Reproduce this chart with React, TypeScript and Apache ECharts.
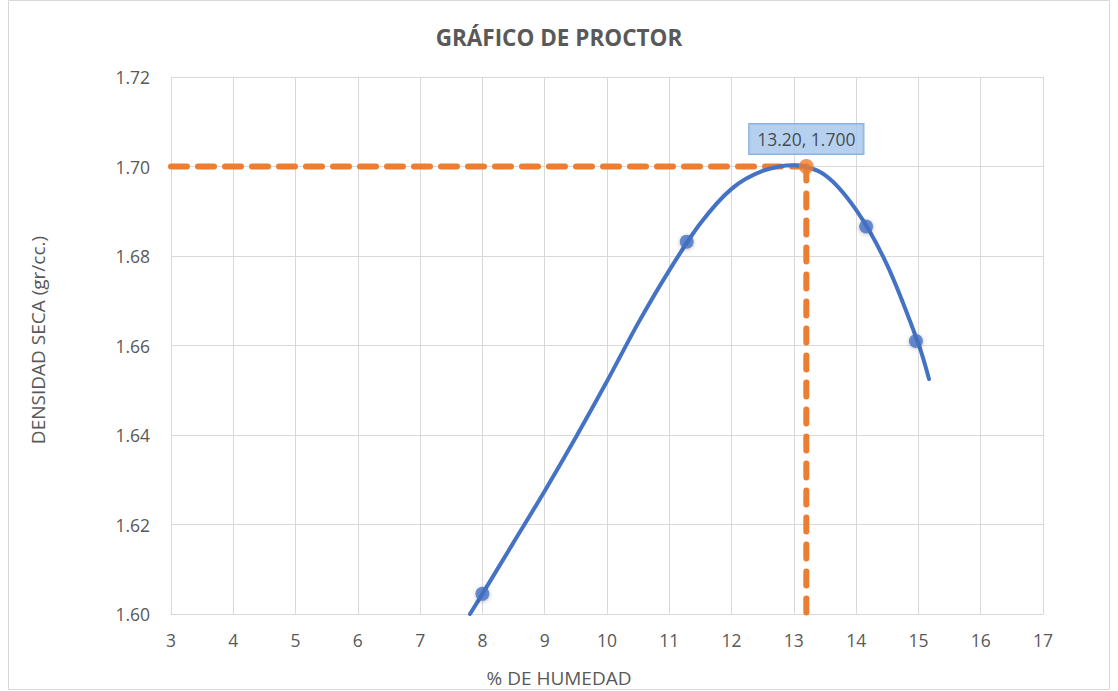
import React, { useEffect, useRef } from "react";
import * as echarts from "echarts";

// Measured points (% humedad, densidad seca)
const measX = [8.0, 11.28, 14.16, 14.96];
const measY = [1.6045, 1.6832, 1.6866, 1.661];

// Trend curve
const trendX = [7.8, 8.0, 8.5, 9.0, 9.5, 10.0, 10.5, 11.0, 11.5, 12.0, 12.5, 13.0, 13.5, 14.0, 14.5, 15.0, 15.17];
const trendY = [1.6, 1.6045, 1.616, 1.6275, 1.6395, 1.652, 1.665, 1.6768, 1.6873, 1.695, 1.699, 1.7003, 1.6981, 1.6903, 1.6779, 1.6604, 1.6525];

// Optimum
const optX = 13.2;
const optY = 1.7;

const xMin = 3;
const xMax = 17;
const yMin = 1.6;
const yMax = 1.72;

const title = "GRÁFICO DE PROCTOR";
const xTitle = "% DE HUMEDAD";
const yTitle = "DENSIDAD SECA (gr/cc.)";

const FONT = "'Open Sans', 'Noto Sans', sans-serif";
const TXT = "#595959";
const GRID = "#d9d9d9";
const BLUE = "#4472c4";
const ORANGE = "#ed7d31";

export default function App() {
  const ref = useRef<HTMLDivElement>(null);
  useEffect(() => {
    if (!ref.current) return;
    const chart = echarts.init(ref.current, undefined, { renderer: "svg" });
    const trend = trendX.map((x, i) => [x, trendY[i]]);
    const meas = measX.map((x, i) => [x, measY[i]]);
    chart.setOption({
      animation: false,
      backgroundColor: "#ffffff",
      textStyle: { fontFamily: FONT },
      title: {
        text: title,
        left: "center",
        top: 21,
        textStyle: { fontFamily: FONT, fontSize: 22.5, fontWeight: "bold", color: TXT },
      },
      grid: { left: 171, right: 75, top: 77, bottom: 77 },
      xAxis: {
        type: "value",
        min: xMin,
        max: xMax,
        interval: 1,
        axisLine: { show: true, lineStyle: { color: GRID } },
        axisTick: { show: false },
        splitLine: { show: true, lineStyle: { color: GRID, width: 1 } },
        axisLabel: { color: TXT, fontSize: 17.5, fontFamily: FONT, margin: 17 },
      },
      yAxis: {
        type: "value",
        min: yMin,
        max: yMax,
        interval: 0.02,
        axisLine: { show: true, lineStyle: { color: GRID } },
        axisTick: { show: false },
        splitLine: { show: true, lineStyle: { color: GRID, width: 1 } },
        axisLabel: {
          color: TXT,
          fontSize: 17.5,
          fontFamily: FONT,
          margin: 21,
          formatter: (v: number) => v.toFixed(2),
        },
      },
      graphic: [
        {
          type: "rect",
          shape: { x: 8.5, y: 0.5, width: 1101, height: 689 },
          style: { fill: "none", stroke: GRID, lineWidth: 1 },
          silent: true,
          z: -10,
        },
        {
          type: "text",
          x: 559,
          y: 678,
          style: {
            text: xTitle,
            fill: TXT,
            font: `19px ${FONT}`,
            align: "center",
            verticalAlign: "middle",
          },
        },
        {
          type: "text",
          x: 38,
          y: 340,
          rotation: Math.PI / 2,
          style: {
            text: yTitle,
            fill: TXT,
            font: `19px ${FONT}`,
            align: "center",
            verticalAlign: "middle",
          },
        },
      ],
      series: [
        {
          type: "line",
          data: [[xMin, optY], [optX, optY]],
          symbol: "none",
          lineStyle: { color: ORANGE, width: 6, type: [16, 11], cap: "round" },
          z: 2,
        },
        {
          type: "line",
          data: [[optX, optY], [optX, yMin]],
          symbol: "none",
          lineStyle: { color: ORANGE, width: 6, type: [14, 13], cap: "round" },
          z: 2,
        },
        {
          type: "line",
          data: trend,
          symbol: "none",
          smooth: 0.3,
          lineStyle: { color: BLUE, width: 4, cap: "round" },
          z: 3,
        },
        {
          type: "scatter",
          data: meas,
          symbol: "circle",
          symbolSize: 14,
          itemStyle: {
            color: BLUE,
            shadowBlur: 4,
            shadowColor: "rgba(0,0,0,0.3)",
            shadowOffsetY: 1,
          },
          z: 4,
        },
        {
          type: "scatter",
          data: [[optX, optY]],
          symbol: "circle",
          symbolSize: 15,
          itemStyle: { color: ORANGE },
          z: 5,
          label: {
            show: true,
            position: "top",
            distance: 5,
            formatter: (p: any) => `${p.value[0].toFixed(2)}, ${p.value[1].toFixed(3)}`,
            fontFamily: FONT,
            fontSize: 17.5,
            color: "#262626",
            backgroundColor: "#a4c6ec",
            borderColor: "#6d9fd9",
            borderWidth: 1,
            padding: [4, 8, 4, 8],
            lineHeight: 22,
          },
        },
      ],
    });
    return () => chart.dispose();
  }, []);
  return (
    <div
      ref={ref}
      style={{ position: "absolute", left: 0, top: 0, width: 1118, height: 691, background: "#fff" }}
    />
  );
}
